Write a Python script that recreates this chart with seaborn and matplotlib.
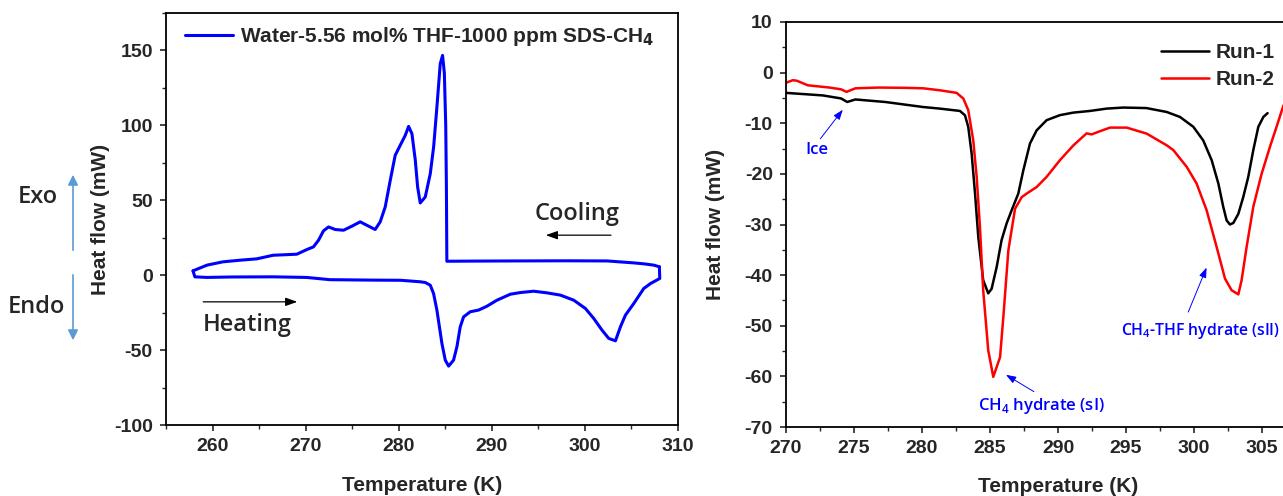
import matplotlib
matplotlib.use("Agg")
import matplotlib.pyplot as plt
import matplotlib.patches as mpatches
import seaborn as sns
from matplotlib.ticker import MultipleLocator, FuncFormatter

# ---------------- data ----------------
# Left panel: cooling (upper branch, read right -> left) and heating (lower branch)
cool_T = [308.0, 307.4, 306.3, 305.25, 302.4, 298.0, 292.0, 288.0, 285.17, 285.12, 285.05,
          284.9, 284.71, 284.46, 284.1, 283.75, 283.39, 282.85, 282.31, 282.03, 281.78,
          281.42, 281.06, 280.7, 280.16, 279.62, 279.09, 278.55, 278.01, 277.47, 276.58,
          275.86, 274.97, 274.07, 273.17, 272.46, 271.92, 271.38, 270.84, 270.13, 269.05,
          266.5, 264.75, 262.96, 261.1, 259.4, 257.9]
cool_Q = [5.6, 6.7, 7.6, 8.2, 9.5, 9.6, 9.5, 9.4, 9.3, 60.0, 100.0,
          135.0, 146.7, 141.1, 112.2, 85.6, 67.8, 52.2, 48.2, 58.9, 76.7,
          94.4, 99.3, 93.3, 86.7, 80.0, 63.3, 45.6, 35.6, 30.5, 33.3,
          35.6, 32.7, 30.0, 30.5, 32.2, 29.6, 23.3, 18.9, 17.1, 14.0,
          13.3, 10.9, 10.0, 8.9, 6.7, 2.9]
heat_T = [257.9, 258.1, 259.4, 262.0, 266.5, 270.1, 272.6, 277.3, 280.2, 282.31, 282.85,
          283.39, 283.74, 284.1, 284.64, 285.0, 285.36, 285.89, 286.25, 286.61, 286.97,
          287.69, 288.58, 289.48, 290.55, 291.99, 293.06, 294.5, 295.93, 297.36, 298.8,
          300.05, 300.95, 301.84, 302.56, 303.28, 303.82, 304.35, 305.25, 306.32, 307.04,
          308.04, 308.0]
heat_Q = [2.9, -1.1, -1.5, -1.2, -1.1, -1.5, -3.0, -3.3, -3.4, -4.4, -4.9,
          -6.7, -12.2, -23.3, -45.6, -56.7, -60.7, -56.7, -47.8, -34.4, -27.8,
          -24.4, -23.3, -20.7, -16.7, -12.7, -11.6, -10.7, -11.8, -13.3, -16.7,
          -22.2, -28.9, -36.7, -42.2, -43.8, -34.4, -26.7, -18.9, -8.9, -5.6,
          -2.2, 5.6]

# Right panel: two heating runs
run1_T = [270.0, 272.7, 274.05, 274.5, 275.1, 277.3, 278.7, 280.1, 281.32, 282.79, 283.16,
          283.4, 283.65, 283.9, 284.14, 284.5, 284.87, 285.12, 285.49, 285.85, 286.22,
          286.59, 287.08, 287.45, 287.94, 288.43, 289.16, 290.14, 291.12, 292.35, 293.57,
          294.8, 296.5, 297.99, 298.97, 299.95, 300.68, 301.3, 301.79, 302.15, 302.4,
          302.64, 302.89, 303.26, 303.62, 303.99, 304.36, 304.73, 305.1, 305.41]
run1_Q = [-4.0, -4.5, -5.1, -5.8, -5.3, -5.8, -6.3, -6.8, -7.11, -7.57, -8.43,
          -10.7, -16.0, -23.9, -32.5, -41.0, -43.6, -42.7, -38.4, -33.1, -29.8,
          -27.2, -23.9, -19.3, -14.0, -11.4, -9.4, -8.4, -7.9, -7.57, -7.11,
          -6.9, -7.0, -7.77, -8.76, -10.7, -13.4, -17.3, -21.9, -26.5, -29.2,
          -30.0, -29.7, -27.9, -24.6, -20.6, -15.3, -10.7, -8.76, -8.0]
run2_T = [270.0, 270.5, 270.8, 271.6, 273.2, 274.05, 274.45, 275.1, 276.8, 278.7, 280.1,
          281.32, 282.55, 283.04, 283.4, 283.77, 284.02, 284.26, 284.5, 284.87, 285.24,
          285.74, 285.98, 286.35, 286.84, 287.33, 287.69, 288.43, 289.16, 290.14, 291.12,
          292.1, 292.47, 292.96, 293.82, 295.05, 296.52, 297.99, 298.48, 299.46, 300.19,
          300.93, 301.66, 302.28, 302.77, 303.26, 303.5, 303.87, 304.36, 304.97, 305.58,
          306.07, 306.54, 307.2]
run2_Q = [-2.0, -1.5, -1.6, -2.5, -2.95, -3.3, -3.8, -3.1, -2.95, -3.0, -3.1,
          -3.49, -4.0, -5.13, -7.4, -13.4, -20.6, -30.5, -43.0, -54.85, -60.1,
          -56.2, -48.3, -35.1, -26.9, -24.6, -23.9, -22.6, -20.6, -17.3, -14.4,
          -12.0, -12.2, -11.7, -10.86, -10.86, -12.05, -14.35, -15.3, -18.6, -21.9,
          -27.2, -34.4, -40.7, -43.0, -43.8, -41.0, -34.4, -26.5, -20.0, -14.7,
          -10.7, -6.78, -2.5]

left_label = r"Water-5.56 mol% THF-1000 ppm SDS-CH$_\mathbf{4}$"
run_labels = ["Run-1", "Run-2"]

# ---------------- style ----------------
sns.set_style("ticks")
plt.rcParams["font.family"] = ["Liberation Sans", "DejaVu Sans"]
plt.rcParams["font.weight"] = "bold"
plt.rcParams["axes.labelweight"] = "bold"
plt.rcParams["mathtext.default"] = "bf"
plt.rcParams["axes.unicode_minus"] = False
plt.rcParams["axes.linewidth"] = 1.3
plt.rcParams["axes.edgecolor"] = "black"
plt.rcParams["lines.solid_joinstyle"] = "round"

W, H = 1283, 496
fig = plt.figure(figsize=(W / 100, H / 100), dpi=100)

def px_axes(l, r, b, t):
    return fig.add_axes([l / W, 1 - b / H, (r - l) / W, (b - t) / H])

ax1 = px_axes(166, 678, 425, 13)
ax2 = px_axes(786, 1330, 427, 22)

# ---------------- left panel ----------------
sns.lineplot(x=cool_T, y=cool_Q, sort=False, estimator=None, color="#0000FF",
             lw=2.2, ax=ax1, label=left_label)
sns.lineplot(x=heat_T, y=heat_Q, sort=False, estimator=None, color="#0000FF",
             lw=2.2, ax=ax1, label="_nolegend_")
ax1.set_xlim(255, 310)
ax1.set_ylim(-100, 175)
ax1.xaxis.set_major_locator(MultipleLocator(10))
ax1.xaxis.set_minor_locator(MultipleLocator(5))
ax1.yaxis.set_major_locator(MultipleLocator(50))
ax1.yaxis.set_minor_locator(MultipleLocator(25))
ax1.set_xlabel("Temperature (K)", fontsize=15, fontweight="bold", labelpad=15)
ax1.set_ylabel("Heat flow (mW)", fontsize=15, fontweight="bold", labelpad=2.5)
leg1 = ax1.legend(loc="upper left", bbox_to_anchor=(185 / W, 1 - 25 / H),
                  bbox_transform=fig.transFigure, frameon=False, fontsize=15,
                  handlelength=2.3, handletextpad=0.35, borderpad=0, borderaxespad=0)
for t in leg1.get_texts():
    t.set_fontweight("bold")

cal = ["Open Sans", "DejaVu Sans"]
tw = 600
ax1.text(299.2, 41, "Cooling", fontsize=17, family=cal, fontweight=tw,
         ha="center", va="center")
ax1.annotate("", xy=(295.5, 26.7), xytext=(303.1, 26.7),
             arrowprops=dict(arrowstyle="-|>,head_length=0.7,head_width=0.25",
                             color="black", lw=0.9))
ax1.text(263.7, -33.3, "Heating", fontsize=17, family=cal, fontweight=tw,
         ha="center", va="center")
ax1.annotate("", xy=(269.4, -17.8), xytext=(258.7, -17.8),
             arrowprops=dict(arrowstyle="-|>,head_length=0.7,head_width=0.25",
                             color="black", lw=0.9))

fig.text(37.7 / W, 1 - 197 / H, "Exo", fontsize=17, family=cal, fontweight=tw,
         ha="center", va="center")
fig.text(36 / W, 1 - 307 / H, "Endo", fontsize=17, family=cal, fontweight=tw,
         ha="center", va="center")
fig.add_artist(mpatches.FancyArrowPatch(
    (73 / W, 1 - 253 / H), (73 / W, 1 - 172 / H), transform=fig.transFigure,
    arrowstyle="-|>,head_length=6,head_width=3", color="#5B9BD5", lw=1.2,
    mutation_scale=1))
fig.add_artist(mpatches.FancyArrowPatch(
    (73 / W, 1 - 272 / H), (73 / W, 1 - 343 / H), transform=fig.transFigure,
    arrowstyle="-|>,head_length=6,head_width=3", color="#5B9BD5", lw=1.2,
    mutation_scale=1))

# ---------------- right panel ----------------
sns.lineplot(x=run1_T, y=run1_Q, sort=False, estimator=None, color="black",
             lw=1.8, ax=ax2, label=run_labels[0])
sns.lineplot(x=run2_T, y=run2_Q, sort=False, estimator=None, color="#FF0000",
             lw=1.8, ax=ax2, label=run_labels[1])
ax2.set_xlim(270, 310)
ax2.set_ylim(-70, 10)
ax2.xaxis.set_major_locator(MultipleLocator(5))
ax2.xaxis.set_minor_locator(MultipleLocator(2.5))
# the 310 label lies beyond the picture's right edge, as in the reference
ax2.xaxis.set_major_formatter(FuncFormatter(lambda v, p: "" if v > 306 else f"{v:.0f}"))
ax2.yaxis.set_major_locator(MultipleLocator(10))
ax2.yaxis.set_minor_locator(MultipleLocator(5))
ax2.set_xlabel("Temperature (K)", fontsize=15, fontweight="bold", labelpad=14)
ax2.set_ylabel("Heat flow (mW)", fontsize=15, fontweight="bold", labelpad=14)
leg2 = ax2.legend(loc="upper left", bbox_to_anchor=(1161 / W, 1 - 43 / H),
                  bbox_transform=fig.transFigure, frameon=False, fontsize=15,
                  handlelength=2.3, handletextpad=0.3, borderpad=0, borderaxespad=0,
                  labelspacing=0.4)
for t in leg2.get_texts():
    t.set_fontweight("bold")

blue = "#0000FF"
ax2.text(272.3, -15.2, "Ice", fontsize=12, family=cal, fontweight=tw,
         color=blue, ha="center", va="center")
ax2.annotate("", xy=(274.3, -6.9), xytext=(272.4, -13.5),
             arrowprops=dict(arrowstyle="-|>,head_length=0.6,head_width=0.22",
                             color=blue, lw=0.7))
ax2.text(288.8, -65.9, r"CH$_\mathregular{4}$ hydrate (sI)", fontsize=12, family=cal,
         fontweight=tw, color=blue, ha="center", va="center")
ax2.annotate("", xy=(286.0, -59.4), xytext=(288.4, -63.3),
             arrowprops=dict(arrowstyle="-|>,head_length=0.6,head_width=0.22",
                             color=blue, lw=0.7))
ax2.text(294.6, -51.1, r"CH$_\mathregular{4}$-THF hydrate (sII)", fontsize=11.3, family=cal,
         fontweight=tw, color=blue, ha="left", va="center")
ax2.annotate("", xy=(301.0, -38.0), xytext=(299.5, -47.8),
             arrowprops=dict(arrowstyle="-|>,head_length=0.6,head_width=0.22",
                             color=blue, lw=0.7))

for ax in (ax1, ax2):
    ax.tick_params(which="major", direction="out", length=4.5, width=1.2, pad=5,
                   labelsize=14, top=False, right=False)
    ax.tick_params(which="minor", direction="out", length=2.8, width=1.0,
                   top=False, right=False)
    for lab in ax.get_xticklabels() + ax.get_yticklabels():
        lab.set_fontweight("bold")
    for s in ax.spines.values():
        s.set_visible(True)
        s.set_linewidth(1.3)
        s.set_color("black")

fig.savefig("out.png", dpi=100)
